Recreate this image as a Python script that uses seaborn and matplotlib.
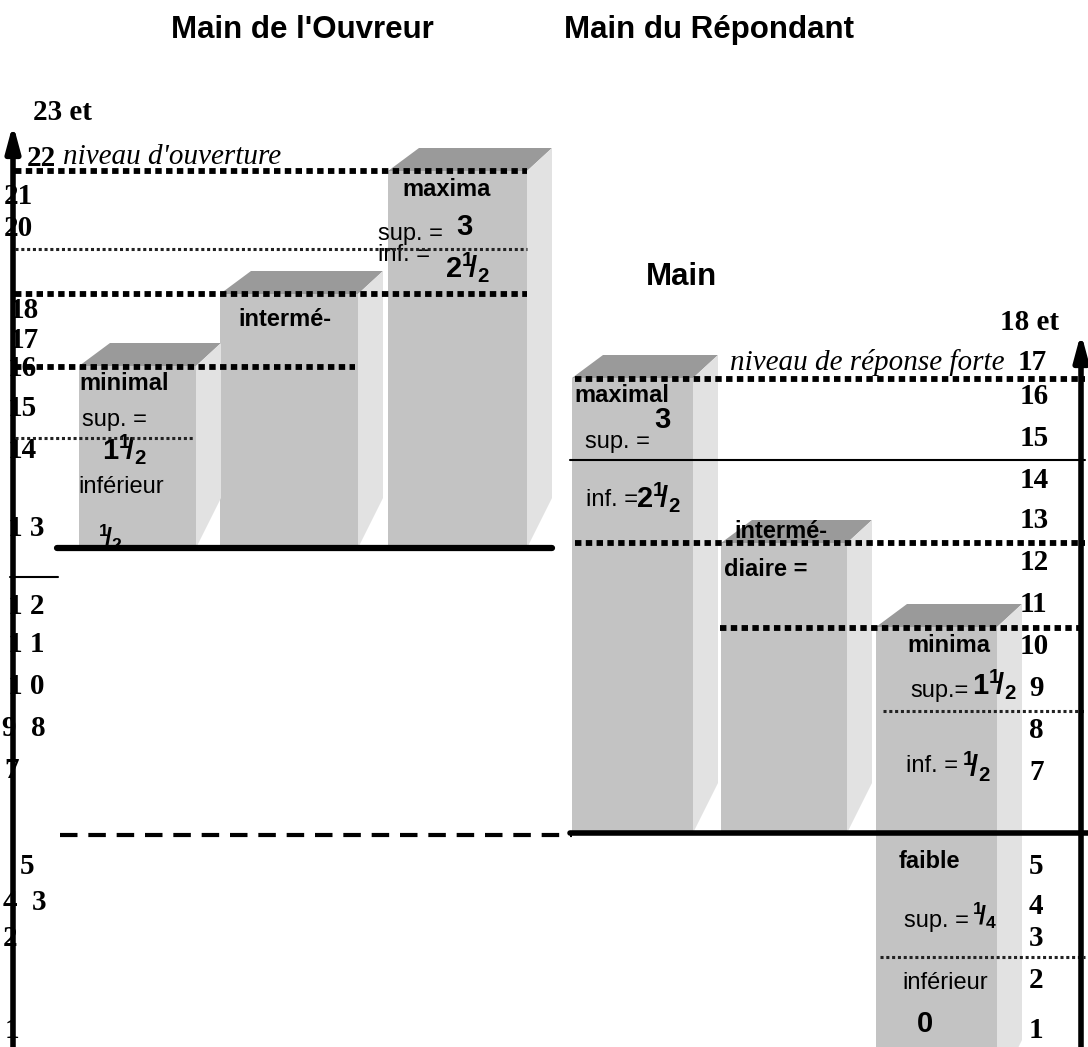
import matplotlib.pyplot as plt
import seaborn as sns
from matplotlib.patches import Polygon

sns.set_theme(style="white")
plt.rcParams['font.family'] = ['Liberation Sans', 'DejaVu Sans']
plt.rcParams['text.color'] = 'black'
plt.rcParams['mathtext.fontset'] = 'custom'
plt.rcParams['mathtext.rm'] = 'Liberation Sans'
plt.rcParams['mathtext.bf'] = 'Liberation Sans:bold'

# niveaux (rangées, 0 en haut)
ouv_noms = ["minimal", "intermé-", "maxima"]
ouv_haut = [366, 294, 171]
ouv_bas = [548, 548, 548]
rep_noms = ["maximal", "intermé-", "minima"]
rep_haut = [378, 543, 627]
rep_bas = [833, 833, 1090]

# graduations
gauche_txt = ["23 et", "22", "21", "20", "18", "17", "16", "15", "14", "1 3",
              "1 2", "1 1", "1 0", "9  8", "7", "5", "4  3", "2", "1"]
gauche_y = [112, 158, 197, 229, 311, 340, 368, 409, 451, 528,
            607, 645, 687, 728, 770, 866, 902, 939, 1030]
droite_txt = ["18 et", "17", "16", "15", "14", "13", "12", "11", "10",
              "9", "8", "7", "5", "4", "3", "2", "1"]
droite_y = [322, 362, 397, 439, 480, 521, 563, 605, 646,
            688, 731, 772, 866, 907, 938, 981, 1030]

# textes dans les barres
ouv_txt = ["maxima", "sup. =", r"$\mathbf{3}$", "inf. =", r"$\mathbf{2^1\!/_2}$",
           "intermé-", "minimal", "sup. =", r"$\mathbf{1^1\!/_2}$", "inférieur",
           r"$\mathbf{^1\!/_2}$"]
rep_txt = ["maximal", r"$\mathbf{3}$", "sup. =", "inf. =", r"$\mathbf{2^1\!/_2}$",
           "intermé-", "diaire =", "minima", "sup.=", r"$\mathbf{1^1\!/_2}$",
           "inf. =", r"$\mathbf{^1\!/_2}$", "faible", "sup. =", r"$\mathbf{^1\!/_4}$",
           "inférieur", r"$\mathbf{0}$"]

# seuils (rangée, début, fin)
seuils_gros = [(171, 15, 527), (294, 15, 527), (367, 15, 355),
               (379, 575, 1085), (543, 575, 1085), (628, 720, 1085)]
seuils_fins = [(249, 15, 527), (438, 15, 193), (711, 883, 1085), (957, 880, 1085)]

fig = plt.figure(figsize=(10.88, 10.47), dpi=100)
ax = fig.add_axes([0, 0, 1, 1])
ax.set_xlim(0, 1088)
ax.set_ylim(1047, 0)
ax.axis('off')

ouv_x = [79, 220, 388]
ouv_w = [117, 138, 139]
rep_x = [572, 721, 876]
rep_w = [121, 126, 121]
dx, dy = 25, -23

def boites(xs, ws, hauts, bas):
    ax.bar(xs, [b - h for h, b in zip(hauts, bas)], width=ws, bottom=hauts,
           align='edge', color='#c3c3c3', linewidth=0, zorder=2)
    for x, w, h, b in zip(xs, ws, hauts, bas):
        xr = x + w
        ax.add_patch(Polygon([(x, h), (xr, h), (xr + dx, h + dy), (x + dx + 6, h + dy)],
                             closed=True, fc='#9a9a9a', ec='none', zorder=2))
        ax.add_patch(Polygon([(xr, h), (xr + dx, h + dy), (xr + dx, b - 50), (xr, b)],
                             closed=True, fc='#e2e2e2', ec='none', zorder=2))

boites(ouv_x, ouv_w, ouv_haut, ouv_bas)
boites(rep_x, rep_w, rep_haut, rep_bas)

for y, a, b in seuils_gros:
    ax.plot([a, b], [y, y], color='black', lw=4.2, ls=(0, (1.1, 0.75)),
            solid_capstyle='butt', dash_capstyle='butt', zorder=6)
for y, a, b in seuils_fins:
    ax.plot([a, b], [y, y], color='#222222', lw=2.2, ls=(0, (1, 0.9)),
            dash_capstyle='butt', zorder=6)

ax.plot([57, 552], [548, 548], color='black', lw=4.5, solid_capstyle='round', zorder=6)
ax.plot([570, 1088], [833, 833], color='black', lw=4, zorder=6)
ax.plot([570, 1085], [460, 460], color='black', lw=1.5, zorder=6)
ax.plot([10, 58], [577, 577], color='black', lw=1.5, zorder=6)
ax.plot([60, 572], [835, 835], color='black', lw=3, ls=(0, (4.2, 2.6)), zorder=6)

# axes verticaux avec flèche
ax.annotate('', xy=(13, 124), xytext=(13, 1047),
            arrowprops=dict(arrowstyle='-|>,head_length=1.3,head_width=0.35',
                            lw=4, color='black', shrinkA=0, shrinkB=0), zorder=7)
ax.annotate('', xy=(1081, 333), xytext=(1081, 1047),
            arrowprops=dict(arrowstyle='-|>,head_length=1.3,head_width=0.35',
                            lw=4, color='black', shrinkA=0, shrinkB=0), zorder=7)

serif = ['Liberation Serif', 'DejaVu Serif']
gauche_x = [33, 27, 4, 4, 10, 10, 8, 8, 8, 8, 8, 8, 8, 2, 4, 20, 3, 3, 5]
for t, x, y in zip(gauche_txt, gauche_x, gauche_y):
    ax.text(x, y, t, family=serif, weight='bold', fontsize=21, ha='left', va='center', zorder=5)
droite_x = [1000, 1018, 1020, 1020, 1020, 1020, 1020, 1020, 1020,
            1029, 1029, 1029, 1029, 1029, 1029, 1029, 1029]
for t, x, y in zip(droite_txt, droite_x, droite_y):
    ax.text(x, y, t, family=serif, weight='bold', fontsize=21, ha='left', va='center', zorder=5)

ax.text(63, 157, "niveau d'ouverture", family=serif, style='italic', fontsize=21,
        ha='left', va='center', zorder=5)
ax.text(1005, 362, "niveau de réponse forte", family=serif, style='italic', fontsize=21,
        ha='right', va='center', zorder=5)

# titres
ax.text(302, 30, "Main de l'Ouvreur", fontsize=22.5, weight='bold', ha='center', va='center')
ax.text(709, 30, "Main du Répondant", fontsize=22.5, weight='bold', ha='center', va='center')
ax.text(682, 277, "Main", fontsize=22.5, weight='bold', ha='center', va='center')

gras = {"maxima", "intermé-", "minimal", "maximal", "diaire =", "minima", "faible"}
ouv_pos = [(402, 190, 17), (378, 234, 17), (456, 227, 21), (378, 255, 17), (445, 267, 21),
           (238, 319, 17), (79, 383, 17), (82, 420, 17), (102, 449, 21), (78, 487, 17),
           (98, 538, 18)]
rep_pos = [(574, 395, 17), (654, 420, 21), (585, 442, 17), (586, 500, 17), (636, 497, 21),
           (734, 532, 17), (724, 569, 17), (907, 646, 17), (910, 691, 17), (972, 684, 21),
           (906, 766, 17), (962, 766, 21), (899, 862, 17), (904, 921, 17), (972, 916, 18),
           (902, 983, 17), (916, 1024, 21)]
for txts, poss in [(ouv_txt, ouv_pos), (rep_txt, rep_pos)]:
    for t, (x, y, s) in zip(txts, poss):
        ax.text(x, y, t, fontsize=s, weight='bold' if t in gras else 'normal',
                ha='left', va='center', zorder=4)

fig.savefig("out.png", dpi=100, facecolor='white')
